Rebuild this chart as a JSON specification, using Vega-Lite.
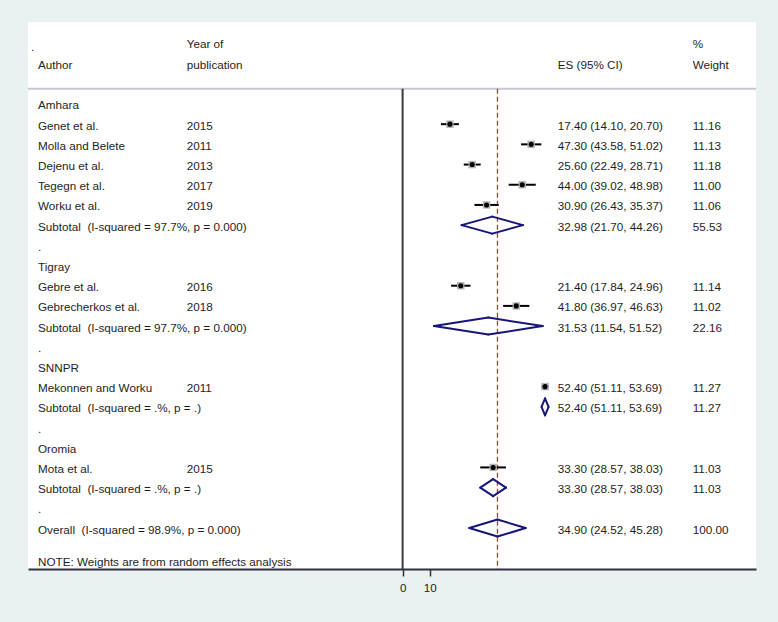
{
  "$schema": "https://vega.github.io/schema/vega-lite/v6.json",
  "width": 728,
  "height": 547,
  "autosize": {"type": "none"},
  "padding": {"left": 28, "top": 22, "right": 22, "bottom": 53},
  "background": "#e9f1f1",
  "config": {"view": {"fill": "white", "stroke": null}, "font": "Liberation Sans"},
  "datasets": {
    "forest": [
      {"row": 1, "type": "study", "es": 17.40, "lo": 14.10, "hi": 20.70, "w": 11.16},
      {"row": 2, "type": "study", "es": 47.30, "lo": 43.58, "hi": 51.02, "w": 11.13},
      {"row": 3, "type": "study", "es": 25.60, "lo": 22.49, "hi": 28.71, "w": 11.18},
      {"row": 4, "type": "study", "es": 44.00, "lo": 39.02, "hi": 48.98, "w": 11.00},
      {"row": 5, "type": "study", "es": 30.90, "lo": 26.43, "hi": 35.37, "w": 11.06},
      {"row": 6, "type": "pooled", "es": 32.98, "lo": 21.70, "hi": 44.26, "w": 55.53},
      {"row": 9, "type": "study", "es": 21.40, "lo": 17.84, "hi": 24.96, "w": 11.14},
      {"row": 10, "type": "study", "es": 41.80, "lo": 36.97, "hi": 46.63, "w": 11.02},
      {"row": 11, "type": "pooled", "es": 31.53, "lo": 11.54, "hi": 51.52, "w": 22.16},
      {"row": 14, "type": "study", "es": 52.40, "lo": 51.11, "hi": 53.69, "w": 11.27},
      {"row": 15, "type": "pooled", "es": 52.40, "lo": 51.11, "hi": 53.69, "w": 11.27},
      {"row": 18, "type": "study", "es": 33.30, "lo": 28.57, "hi": 38.03, "w": 11.03},
      {"row": 19, "type": "pooled", "es": 33.30, "lo": 28.57, "hi": 38.03, "w": 11.03},
      {"row": 21, "type": "overall", "es": 34.90, "lo": 24.52, "hi": 45.28, "w": 100.00}
    ],
    "cells": [
      {"row": -2.9, "col": 0, "text": "."},
      {"row": -3.03, "col": 2, "text": "Year of"},
      {"row": -2, "col": 1, "text": "Author"},
      {"row": -2, "col": 2, "text": "publication"},
      {"row": -2, "col": 3, "text": "ES (95% CI)"},
      {"row": -3.03, "col": 4, "text": "%"},
      {"row": -2, "col": 4, "text": "Weight"},
      {"row": 0, "col": 1, "text": "Amhara"},
      {"row": 1, "col": 1, "text": "Genet et al."},
      {"row": 1, "col": 2, "text": "2015"},
      {"row": 1, "col": 3, "text": "17.40 (14.10, 20.70)"},
      {"row": 1, "col": 4, "text": "11.16"},
      {"row": 2, "col": 1, "text": "Molla and Belete"},
      {"row": 2, "col": 2, "text": "2011"},
      {"row": 2, "col": 3, "text": "47.30 (43.58, 51.02)"},
      {"row": 2, "col": 4, "text": "11.13"},
      {"row": 3, "col": 1, "text": "Dejenu et al."},
      {"row": 3, "col": 2, "text": "2013"},
      {"row": 3, "col": 3, "text": "25.60 (22.49, 28.71)"},
      {"row": 3, "col": 4, "text": "11.18"},
      {"row": 4, "col": 1, "text": "Tegegn et al."},
      {"row": 4, "col": 2, "text": "2017"},
      {"row": 4, "col": 3, "text": "44.00 (39.02, 48.98)"},
      {"row": 4, "col": 4, "text": "11.00"},
      {"row": 5, "col": 1, "text": "Worku et al."},
      {"row": 5, "col": 2, "text": "2019"},
      {"row": 5, "col": 3, "text": "30.90 (26.43, 35.37)"},
      {"row": 5, "col": 4, "text": "11.06"},
      {"row": 6, "col": 1, "text": "Subtotal\u00a0 (I-squared = 97.7%, p = 0.000)"},
      {"row": 6, "col": 3, "text": "32.98 (21.70, 44.26)"},
      {"row": 6, "col": 4, "text": "55.53"},
      {"row": 7, "col": 1, "text": "."},
      {"row": 8, "col": 1, "text": "Tigray"},
      {"row": 9, "col": 1, "text": "Gebre et al."},
      {"row": 9, "col": 2, "text": "2016"},
      {"row": 9, "col": 3, "text": "21.40 (17.84, 24.96)"},
      {"row": 9, "col": 4, "text": "11.14"},
      {"row": 10, "col": 1, "text": "Gebrecherkos et al."},
      {"row": 10, "col": 2, "text": "2018"},
      {"row": 10, "col": 3, "text": "41.80 (36.97, 46.63)"},
      {"row": 10, "col": 4, "text": "11.02"},
      {"row": 11, "col": 1, "text": "Subtotal\u00a0 (I-squared = 97.7%, p = 0.000)"},
      {"row": 11, "col": 3, "text": "31.53 (11.54, 51.52)"},
      {"row": 11, "col": 4, "text": "22.16"},
      {"row": 12, "col": 1, "text": "."},
      {"row": 13, "col": 1, "text": "SNNPR"},
      {"row": 14, "col": 1, "text": "Mekonnen and Worku"},
      {"row": 14, "col": 2, "text": "2011"},
      {"row": 14, "col": 3, "text": "52.40 (51.11, 53.69)"},
      {"row": 14, "col": 4, "text": "11.27"},
      {"row": 15, "col": 1, "text": "Subtotal\u00a0 (I-squared = .%, p = .)"},
      {"row": 15, "col": 3, "text": "52.40 (51.11, 53.69)"},
      {"row": 15, "col": 4, "text": "11.27"},
      {"row": 16, "col": 1, "text": "."},
      {"row": 17, "col": 1, "text": "Oromia"},
      {"row": 18, "col": 1, "text": "Mota et al."},
      {"row": 18, "col": 2, "text": "2015"},
      {"row": 18, "col": 3, "text": "33.30 (28.57, 38.03)"},
      {"row": 18, "col": 4, "text": "11.03"},
      {"row": 19, "col": 1, "text": "Subtotal\u00a0 (I-squared = .%, p = .)"},
      {"row": 19, "col": 3, "text": "33.30 (28.57, 38.03)"},
      {"row": 19, "col": 4, "text": "11.03"},
      {"row": 20, "col": 1, "text": "."},
      {"row": 21, "col": 1, "text": "Overall\u00a0 (I-squared = 98.9%, p = 0.000)"},
      {"row": 21, "col": 3, "text": "34.90 (24.52, 45.28)"},
      {"row": 21, "col": 4, "text": "100.00"},
      {"row": 22.6, "col": 1, "text": "NOTE: Weights are from random effects analysis"}
    ]
  },
  "layer": [
    {
      "data": {"name": "forest"},
      "encoding": {
        "y": {"field": "row", "type": "quantitative", "scale": {"domain": [-4.06, 23.03], "reverse": true, "nice": false, "zero": false}, "axis": null}
      },
      "layer": [
        {
          "transform": [{"filter": "datum.type == 'overall'"}],
          "mark": {"type": "rule", "color": "#c6c6d2", "strokeWidth": 2},
          "encoding": {"y": {"datum": -0.76, "type": "quantitative"}}
        },
        {
          "transform": [{"filter": "datum.type == 'overall'"}],
          "mark": {"type": "rule", "color": "#3a3a3a", "strokeWidth": 2},
          "encoding": {
            "x": {"datum": 0, "type": "quantitative",
                  "scale": {"domain": [-137.8, 130.0], "nice": false, "zero": false},
                  "axis": {"values": [0, 10], "title": null, "grid": false, "domainColor": "#30303c", "domainWidth": 2, "tickColor": "#30303c", "tickSize": 7, "tickWidth": 1.5, "labelFontSize": 11.6, "labelColor": "#222222", "labelPadding": 6, "labelFont": "Liberation Sans"}},
            "y": {"datum": -0.76, "type": "quantitative"},
            "y2": {"datum": 23.03}
          }
        },
        {
          "transform": [{"filter": "datum.type == 'overall'"}],
          "mark": {"type": "rule", "color": "#b03a3a", "strokeWidth": 1.3, "strokeDash": [5, 3]},
          "encoding": {
            "x": {"field": "es", "type": "quantitative"},
            "y": {"datum": -0.76, "type": "quantitative"},
            "y2": {"datum": 23.03}
          }
        },
        {
          "transform": [{"filter": "datum.type == 'study'"}],
          "mark": {"type": "rule", "color": "#000000", "strokeWidth": 2},
          "encoding": {
            "x": {"field": "lo", "type": "quantitative"},
            "x2": {"field": "hi"}
          }
        },
        {
          "transform": [{"filter": "datum.type == 'study'"}],
          "mark": {"type": "point", "shape": "square", "filled": true, "color": "#b4b4b4", "opacity": 1},
          "encoding": {
            "x": {"field": "es", "type": "quantitative"},
            "size": {"field": "w", "type": "quantitative", "scale": {"domain": [0, 11.27], "range": [0, 56]}, "legend": null}
          }
        },
        {
          "transform": [{"filter": "datum.type == 'study'"}],
          "mark": {"type": "point", "shape": "circle", "filled": true, "color": "#000000", "size": 26, "opacity": 1},
          "encoding": {
            "x": {"field": "es", "type": "quantitative"}
          }
        },
        {
          "transform": [{"filter": "datum.type != 'study'"}],
          "mark": {"type": "rule", "color": "#16167a", "strokeWidth": 2, "strokeCap": "round", "y2Offset": -8.5},
          "encoding": {"x": {"field": "lo", "type": "quantitative"}, "x2": {"field": "es"}, "y2": {"field": "row"}}
        },
        {
          "transform": [{"filter": "datum.type != 'study'"}],
          "mark": {"type": "rule", "color": "#16167a", "strokeWidth": 2, "strokeCap": "round", "y2Offset": 8.5},
          "encoding": {"x": {"field": "lo", "type": "quantitative"}, "x2": {"field": "es"}, "y2": {"field": "row"}}
        },
        {
          "transform": [{"filter": "datum.type != 'study'"}],
          "mark": {"type": "rule", "color": "#16167a", "strokeWidth": 2, "strokeCap": "round", "y2Offset": -8.5},
          "encoding": {"x": {"field": "hi", "type": "quantitative"}, "x2": {"field": "es"}, "y2": {"field": "row"}}
        },
        {
          "transform": [{"filter": "datum.type != 'study'"}],
          "mark": {"type": "rule", "color": "#16167a", "strokeWidth": 2, "strokeCap": "round", "y2Offset": 8.5},
          "encoding": {"x": {"field": "hi", "type": "quantitative"}, "x2": {"field": "es"}, "y2": {"field": "row"}}
        }
      ]
    },
    {
      "data": {"name": "cells"},
      "mark": {"type": "text", "align": "left", "baseline": "middle", "fontSize": 11.7, "dy": 1.5, "color": "#1e1e1e", "font": "Liberation Sans"},
      "encoding": {
        "x": {"field": "col", "type": "quantitative", "scale": {"domain": [0, 1, 2, 3, 4], "range": [3, 10, 158.7, 529.7, 664.7]}, "axis": null},
        "y": {"field": "row", "type": "quantitative", "scale": {"domain": [-4.06, 23.03], "reverse": true, "nice": false, "zero": false}, "axis": null},
        "text": {"field": "text"}
      }
    }
  ],
  "resolve": {"scale": {"x": "independent"}, "axis": {"x": "independent"}}
}
